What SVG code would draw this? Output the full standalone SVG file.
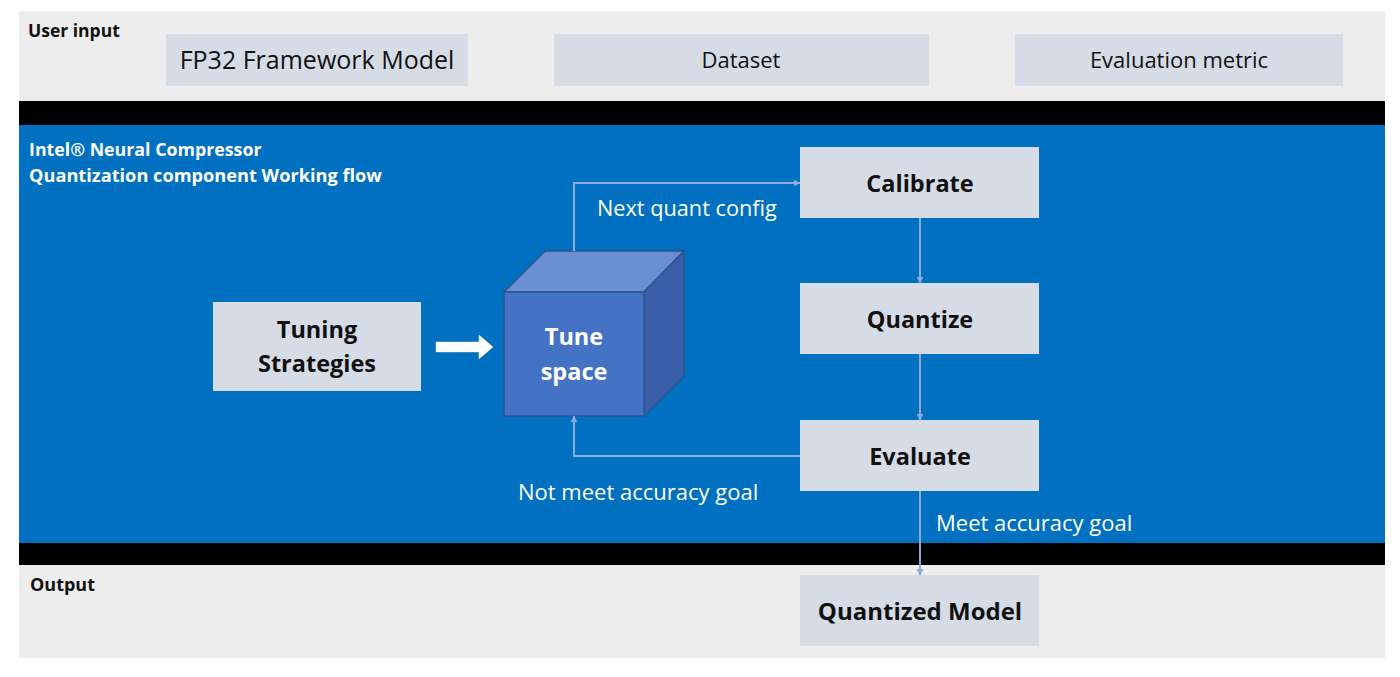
<svg xmlns="http://www.w3.org/2000/svg" width="1400" height="677" viewBox="0 0 1400 677">
<defs>
<style>
.band{fill:#EDEDED}
.bar{fill:#000}
.blue{fill:#0070C0}
.box{fill:#D6DCE5}
.t{font-family:"Open Sans","Noto Sans",sans-serif;fill:#111}
.tb{font-family:"Open Sans","Noto Sans",sans-serif;font-weight:bold;fill:#111}
.w{font-family:"Open Sans","Noto Sans",sans-serif;fill:#fff}
.wb{font-family:"Open Sans","Noto Sans",sans-serif;font-weight:bold;fill:#fff}
.c{fill:none;stroke:#8FAADC;stroke-width:2}
</style>
<marker id="ah" viewBox="0 0 10 10" refX="9" refY="5" markerWidth="7" markerHeight="7" orient="auto" markerUnits="userSpaceOnUse">
<path d="M0,0 L10,5 L0,10 Z" fill="#8FAADC"/>
</marker>
</defs>
<rect width="1400" height="677" fill="#fff"/>
<g id="background">
<rect class="band" x="19" y="11" width="1366" height="90"/>
<rect class="bar" x="19" y="101" width="1366" height="24"/>
<rect class="blue" x="19" y="125" width="1366" height="418"/>
<rect class="bar" x="19" y="543" width="1366" height="22"/>
<rect class="band" x="19" y="565" width="1366" height="93"/>
<text class="tb" x="28" y="37" font-size="17.5">User input</text>
<text class="wb" x="29" y="156" font-size="17.8">Intel® Neural Compressor</text>
<text class="wb" x="29" y="182" font-size="18.2">Quantization component Working flow</text>
<text class="tb" x="30" y="591" font-size="18">Output</text>
</g>
<g id="fp32">
<rect class="box" x="166" y="34" width="302" height="52"/>
<text class="t" x="317" y="69" font-size="25" text-anchor="middle">FP32 Framework Model</text>
</g>
<g id="dataset">
<rect class="box" x="554" y="34" width="375" height="52"/>
<text class="t" x="741" y="68" font-size="22" text-anchor="middle">Dataset</text>
</g>
<g id="metric">
<rect class="box" x="1015" y="34" width="328" height="52"/>
<text class="t" x="1179" y="68" font-size="22" text-anchor="middle">Evaluation metric</text>
</g>
<g id="tuning">
<rect class="box" x="213" y="302" width="208" height="89"/>
<text class="tb" x="317" y="338" font-size="23.5" text-anchor="middle">Tuning</text>
<text class="tb" x="317" y="372" font-size="23.5" text-anchor="middle">Strategies</text>
</g>
<g id="bigarrow">
<path d="M436,342 L479,342 L479,335 L493,347 L479,359 L479,352 L436,352 Z" fill="#fff" stroke="#ddd" stroke-width="0.5"/>
</g>
<g id="tunespace">
<path d="M504,292 L545,251 L684,251 L644,292 Z" fill="#6A8FD0" stroke="#2F528F" stroke-width="1.5"/>
<path d="M644,292 L684,251 L684,376 L644,416 Z" fill="#3A5EA8" stroke="#2F528F" stroke-width="1.5"/>
<rect x="504" y="292" width="140" height="124" fill="#4472C4" stroke="#2F528F" stroke-width="1.5"/>
<text class="wb" x="574" y="345" font-size="23.5" text-anchor="middle">Tune</text>
<text class="wb" x="574" y="380" font-size="23.5" text-anchor="middle">space</text>
</g>
<g id="calibrate">
<rect class="box" x="800" y="147" width="239" height="71"/>
<text class="tb" x="920" y="192" font-size="23.5" text-anchor="middle">Calibrate</text>
</g>
<g id="quantize">
<rect class="box" x="800" y="283" width="239" height="71"/>
<text class="tb" x="920" y="328" font-size="23.5" text-anchor="middle">Quantize</text>
</g>
<g id="evaluate">
<rect class="box" x="800" y="420" width="239" height="71"/>
<text class="tb" x="920" y="465" font-size="23.5" text-anchor="middle">Evaluate</text>
</g>
<g id="quantized">
<rect class="box" x="800" y="575" width="239" height="71"/>
<text class="tb" x="920" y="620" font-size="24" text-anchor="middle">Quantized Model</text>
</g>
<g id="connectors">
<path class="c" d="M574,251 L574,183 L800,183" marker-end="url(#ah)"/>
<path class="c" d="M920,218 L920,283" marker-end="url(#ah)"/>
<path class="c" d="M920,354 L920,420" marker-end="url(#ah)"/>
<path class="c" d="M800,456 L574,456 L574,416" marker-end="url(#ah)"/>
<path class="c" d="M920,491 L920,575" marker-end="url(#ah)"/>
<text class="w" x="597" y="216" font-size="21.7">Next quant config</text>
<text class="w" x="518" y="500" font-size="22">Not meet accuracy goal</text>
<text class="w" x="936" y="531" font-size="22">Meet accuracy goal</text>
</g>
</svg>
